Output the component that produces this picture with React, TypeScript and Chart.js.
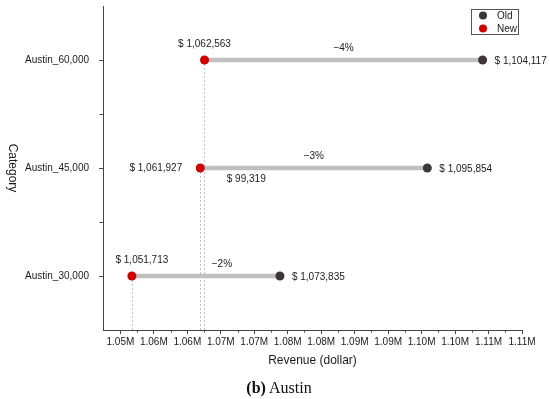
import React, { useEffect, useRef } from 'react';
import { Chart, registerables } from 'chart.js';

Chart.register(...registerables);

// ---- data ----
const categories = ['Austin_60,000', 'Austin_45,000', 'Austin_30,000'];
const oldValues = [1104117, 1095854, 1073835];
const newValues = [1062563, 1061927, 1051713];
const pctLabels = ['−4%', '−3%', '−2%'];
const extraLabels = ['', '$ 99,319', ''];
const seriesNames = ['Old', 'New'];
const tickValues = [1050000, 1055000, 1060000, 1065000, 1070000, 1075000, 1080000, 1085000, 1090000, 1095000, 1100000, 1105000, 1110000];
const tickLabels = ['1.05M', '1.06M', '1.06M', '1.07M', '1.07M', '1.08M', '1.08M', '1.09M', '1.09M', '1.10M', '1.10M', '1.11M', '1.11M'];

// ---- styles ----
const FONT = '"Liberation Sans", Arial, Helvetica, sans-serif';
const OLD_COLOR = '#3d353a';
const NEW_COLOR = '#d00000';
const LINE_COLOR = '#c0c0c0';
const AXIS_COLOR = '#444444';
const TEXT_COLOR = '#1a1a1a';

const money = (v: number) => '$ ' + v.toLocaleString('en-US');

// placement of "new" labels: above / left
const newLabelPlacement = ['above', 'left', 'above'];
const pctOffsetX = [0, 0, 16];

const overlayPlugin = {
  id: 'overlay',
  beforeDatasetsDraw(chart: any) {
    const { ctx, chartArea, scales } = chart;
    const x = scales.x, y = scales.y;
    ctx.save();
    ctx.strokeStyle = '#c4c4c4';
    ctx.lineWidth = 1;
    ctx.setLineDash([2, 2]);
    newValues.forEach((v, i) => {
      const px = Math.round(x.getPixelForValue(v)) + 0.5;
      const py = y.getPixelForValue(i);
      ctx.beginPath();
      ctx.moveTo(px, py);
      ctx.lineTo(px, chartArea.bottom);
      ctx.stroke();
    });
    ctx.restore();
  },
  afterDatasetsDraw(chart: any) {
    const { ctx, scales } = chart;
    const x = scales.x, y = scales.y;
    ctx.save();
    ctx.fillStyle = TEXT_COLOR;
    ctx.font = '10px ' + FONT;
    categories.forEach((_, i) => {
      const py = y.getPixelForValue(i);
      const pxNew = x.getPixelForValue(newValues[i]);
      const pxOld = x.getPixelForValue(oldValues[i]);
      ctx.textBaseline = 'middle';
      if (newLabelPlacement[i] === 'above') {
        ctx.textAlign = 'center';
        ctx.fillText(money(newValues[i]), pxNew + (i === 2 ? 10 : 0), py - 16);
      } else {
        ctx.textAlign = 'right';
        ctx.fillText(money(newValues[i]), pxNew - 18, py);
      }
      ctx.textAlign = 'left';
      ctx.fillText(money(oldValues[i]), pxOld + 12, py + 1);
      ctx.textAlign = 'center';
      ctx.fillText(pctLabels[i], (pxNew + pxOld) / 2 + pctOffsetX[i], py - 12);
      if (extraLabels[i]) {
        ctx.fillText(extraLabels[i], pxNew + 46, py + 11);
      }
    });
    ctx.restore();
  },
  afterDraw(chart: any) {
    const { ctx, chartArea, scales } = chart;
    const x = scales.x, y = scales.y;
    ctx.save();
    ctx.strokeStyle = AXIS_COLOR;
    ctx.lineWidth = 1;
    for (let k = 0; k < tickValues.length - 1; k++) {
      const v = (tickValues[k] + tickValues[k + 1]) / 2;
      const px = Math.round(x.getPixelForValue(v)) + 0.5;
      ctx.beginPath();
      ctx.moveTo(px, chartArea.bottom);
      ctx.lineTo(px, chartArea.bottom + 2.5);
      ctx.stroke();
    }
    for (let i = 0; i < categories.length - 1; i++) {
      const py = Math.round(y.getPixelForValue(i + 0.5)) + 0.5;
      ctx.beginPath();
      ctx.moveTo(chartArea.left, py);
      ctx.lineTo(chartArea.left - 3.5, py);
      ctx.stroke();
    }
    ctx.fillStyle = TEXT_COLOR;
    ctx.font = '12px ' + FONT;
    ctx.textAlign = 'center';
    ctx.textBaseline = 'middle';
    ctx.fillText('Revenue (dollar)', (chartArea.left + chartArea.right) / 2, chartArea.bottom + 31);
    ctx.save();
    ctx.translate(12, (chartArea.top + chartArea.bottom) / 2);
    ctx.rotate(Math.PI / 2);
    ctx.fillText('Category', 0, 0);
    ctx.restore();
    const bx = chartArea.right - 51, by = chartArea.top + 3, bw = 47, bh = 25;
    ctx.strokeStyle = '#555555';
    ctx.lineWidth = 1;
    ctx.strokeRect(bx + 0.5, by + 0.5, bw, bh);
    ctx.font = '10px ' + FONT;
    ctx.textAlign = 'left';
    const colors = [OLD_COLOR, NEW_COLOR];
    seriesNames.forEach((name, i) => {
      const cy = by + 6.5 + i * 13;
      ctx.fillStyle = colors[i];
      ctx.beginPath();
      ctx.arc(bx + 12, cy, 4, 0, Math.PI * 2);
      ctx.fill();
      ctx.fillStyle = TEXT_COLOR;
      ctx.fillText(name, bx + 26, cy + 0.5);
    });
    ctx.restore();
  },
};

export default function App() {
  const ref = useRef<HTMLCanvasElement | null>(null);
  useEffect(() => {
    if (!ref.current) return;
    const chart = new Chart(ref.current, {
      type: 'bar',
      data: {
        labels: categories,
        datasets: [
          {
            type: 'bar',
            label: 'range',
            data: categories.map((_, i) => [newValues[i], oldValues[i]]) as any,
            backgroundColor: LINE_COLOR,
            barThickness: 4,
            borderWidth: 0,
            borderSkipped: false,
            order: 3,
          },
          {
            type: 'line',
            label: seriesNames[0],
            data: categories.map((c, i) => ({ x: oldValues[i], y: c })) as any,
            showLine: false,
            pointRadius: 4.5,
            pointHoverRadius: 4.5,
            pointBackgroundColor: OLD_COLOR,
            pointBorderWidth: 0,
            borderColor: OLD_COLOR,
            order: 1,
          },
          {
            type: 'line',
            label: seriesNames[1],
            data: categories.map((c, i) => ({ x: newValues[i], y: c })) as any,
            showLine: false,
            pointRadius: 4.5,
            pointHoverRadius: 4.5,
            pointBackgroundColor: NEW_COLOR,
            pointBorderWidth: 0,
            borderColor: NEW_COLOR,
            order: 1,
          },
        ],
      },
      options: {
        indexAxis: 'y',
        responsive: false,
        animation: false,
        layout: { padding: { left: 0, top: 6, right: 28, bottom: 0 } },
        plugins: { legend: { display: false }, tooltip: { enabled: false } },
        scales: {
          x: {
            type: 'linear',
            min: 1047400,
            max: 1110000,
            afterBuildTicks: (scale: any) => {
              scale.ticks = tickValues.map((v) => ({ value: v }));
            },
            afterFit: (scale: any) => {
              scale.height = 69;
            },
            ticks: {
              autoSkip: false,
              maxRotation: 0,
              padding: 2,
              color: TEXT_COLOR,
              font: { family: FONT, size: 10 },
              callback: (_v: any, idx: number) => tickLabels[idx],
            },
            grid: { drawOnChartArea: false, drawTicks: true, tickLength: 4, color: AXIS_COLOR },
            border: { display: true, color: AXIS_COLOR },
          },
          y: {
            type: 'category',
            offset: true,
            afterFit: (scale: any) => {
              scale.width = 103;
              scale.paddingTop = 0;
              scale.paddingBottom = 0;
            },
            ticks: {
              padding: 10,
              color: TEXT_COLOR,
              font: { family: FONT, size: 10 },
            },
            grid: { offset: false, drawOnChartArea: false, drawTicks: true, tickLength: 4, color: AXIS_COLOR },
            border: { display: true, color: AXIS_COLOR },
          },
        },
      },
      plugins: [overlayPlugin],
    } as any);
    return () => chart.destroy();
  }, []);

  return (
    <div style={{ position: 'fixed', left: 0, top: 0, width: 550, height: 399, background: '#fff' }}>
      <canvas ref={ref} width={550} height={399} style={{ display: 'block' }} />
      <div
        style={{
          position: 'absolute',
          left: 0,
          width: 558,
          top: 378,
          textAlign: 'center',
          fontFamily: '"Liberation Serif", "Times New Roman", serif',
          fontSize: 16,
          lineHeight: '20px',
          color: '#111',
        }}
      >
        <b>(b)</b> Austin
      </div>
    </div>
  );
}
